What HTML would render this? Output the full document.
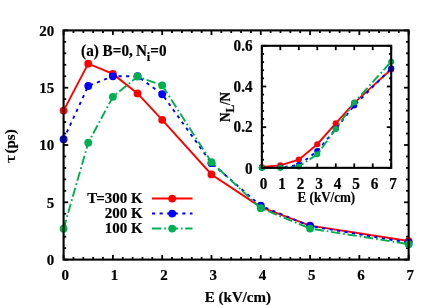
<!DOCTYPE html>
<html><head><meta charset="utf-8"><title>chart</title>
<style>
html,body{margin:0;padding:0;background:#fff;}
body{width:436px;height:305px;overflow:hidden;}
svg{display:block;will-change:transform;}
text{stroke:#000;stroke-width:0.2px;font-family:"Liberation Serif",serif;font-weight:bold;}
</style></head><body>
<svg width="436" height="305" viewBox="0 0 436 305">
<rect width="436" height="305" fill="#fff"/>
<line x1="63.60" y1="259.60" x2="63.60" y2="255.00" stroke="#000" stroke-width="1.80"/>
<line x1="63.60" y1="30.40" x2="63.60" y2="35.00" stroke="#000" stroke-width="1.80"/>
<line x1="73.46" y1="259.60" x2="73.46" y2="257.00" stroke="#000" stroke-width="1.80"/>
<line x1="73.46" y1="30.40" x2="73.46" y2="33.00" stroke="#000" stroke-width="1.80"/>
<line x1="83.32" y1="259.60" x2="83.32" y2="257.00" stroke="#000" stroke-width="1.80"/>
<line x1="83.32" y1="30.40" x2="83.32" y2="33.00" stroke="#000" stroke-width="1.80"/>
<line x1="93.18" y1="259.60" x2="93.18" y2="257.00" stroke="#000" stroke-width="1.80"/>
<line x1="93.18" y1="30.40" x2="93.18" y2="33.00" stroke="#000" stroke-width="1.80"/>
<line x1="103.03" y1="259.60" x2="103.03" y2="257.00" stroke="#000" stroke-width="1.80"/>
<line x1="103.03" y1="30.40" x2="103.03" y2="33.00" stroke="#000" stroke-width="1.80"/>
<line x1="112.89" y1="259.60" x2="112.89" y2="255.00" stroke="#000" stroke-width="1.80"/>
<line x1="112.89" y1="30.40" x2="112.89" y2="35.00" stroke="#000" stroke-width="1.80"/>
<line x1="122.75" y1="259.60" x2="122.75" y2="257.00" stroke="#000" stroke-width="1.80"/>
<line x1="122.75" y1="30.40" x2="122.75" y2="33.00" stroke="#000" stroke-width="1.80"/>
<line x1="132.61" y1="259.60" x2="132.61" y2="257.00" stroke="#000" stroke-width="1.80"/>
<line x1="132.61" y1="30.40" x2="132.61" y2="33.00" stroke="#000" stroke-width="1.80"/>
<line x1="142.47" y1="259.60" x2="142.47" y2="257.00" stroke="#000" stroke-width="1.80"/>
<line x1="142.47" y1="30.40" x2="142.47" y2="33.00" stroke="#000" stroke-width="1.80"/>
<line x1="152.33" y1="259.60" x2="152.33" y2="257.00" stroke="#000" stroke-width="1.80"/>
<line x1="152.33" y1="30.40" x2="152.33" y2="33.00" stroke="#000" stroke-width="1.80"/>
<line x1="162.19" y1="259.60" x2="162.19" y2="255.00" stroke="#000" stroke-width="1.80"/>
<line x1="162.19" y1="30.40" x2="162.19" y2="35.00" stroke="#000" stroke-width="1.80"/>
<line x1="172.04" y1="259.60" x2="172.04" y2="257.00" stroke="#000" stroke-width="1.80"/>
<line x1="172.04" y1="30.40" x2="172.04" y2="33.00" stroke="#000" stroke-width="1.80"/>
<line x1="181.90" y1="259.60" x2="181.90" y2="257.00" stroke="#000" stroke-width="1.80"/>
<line x1="181.90" y1="30.40" x2="181.90" y2="33.00" stroke="#000" stroke-width="1.80"/>
<line x1="191.76" y1="259.60" x2="191.76" y2="257.00" stroke="#000" stroke-width="1.80"/>
<line x1="191.76" y1="30.40" x2="191.76" y2="33.00" stroke="#000" stroke-width="1.80"/>
<line x1="201.62" y1="259.60" x2="201.62" y2="257.00" stroke="#000" stroke-width="1.80"/>
<line x1="201.62" y1="30.40" x2="201.62" y2="33.00" stroke="#000" stroke-width="1.80"/>
<line x1="211.48" y1="259.60" x2="211.48" y2="255.00" stroke="#000" stroke-width="1.80"/>
<line x1="211.48" y1="30.40" x2="211.48" y2="35.00" stroke="#000" stroke-width="1.80"/>
<line x1="221.34" y1="259.60" x2="221.34" y2="257.00" stroke="#000" stroke-width="1.80"/>
<line x1="221.34" y1="30.40" x2="221.34" y2="33.00" stroke="#000" stroke-width="1.80"/>
<line x1="231.20" y1="259.60" x2="231.20" y2="257.00" stroke="#000" stroke-width="1.80"/>
<line x1="231.20" y1="30.40" x2="231.20" y2="33.00" stroke="#000" stroke-width="1.80"/>
<line x1="241.05" y1="259.60" x2="241.05" y2="257.00" stroke="#000" stroke-width="1.80"/>
<line x1="241.05" y1="30.40" x2="241.05" y2="33.00" stroke="#000" stroke-width="1.80"/>
<line x1="250.91" y1="259.60" x2="250.91" y2="257.00" stroke="#000" stroke-width="1.80"/>
<line x1="250.91" y1="30.40" x2="250.91" y2="33.00" stroke="#000" stroke-width="1.80"/>
<line x1="260.77" y1="259.60" x2="260.77" y2="255.00" stroke="#000" stroke-width="1.80"/>
<line x1="260.77" y1="30.40" x2="260.77" y2="35.00" stroke="#000" stroke-width="1.80"/>
<line x1="270.63" y1="259.60" x2="270.63" y2="257.00" stroke="#000" stroke-width="1.80"/>
<line x1="270.63" y1="30.40" x2="270.63" y2="33.00" stroke="#000" stroke-width="1.80"/>
<line x1="280.49" y1="259.60" x2="280.49" y2="257.00" stroke="#000" stroke-width="1.80"/>
<line x1="280.49" y1="30.40" x2="280.49" y2="33.00" stroke="#000" stroke-width="1.80"/>
<line x1="290.35" y1="259.60" x2="290.35" y2="257.00" stroke="#000" stroke-width="1.80"/>
<line x1="290.35" y1="30.40" x2="290.35" y2="33.00" stroke="#000" stroke-width="1.80"/>
<line x1="300.21" y1="259.60" x2="300.21" y2="257.00" stroke="#000" stroke-width="1.80"/>
<line x1="300.21" y1="30.40" x2="300.21" y2="33.00" stroke="#000" stroke-width="1.80"/>
<line x1="310.06" y1="259.60" x2="310.06" y2="255.00" stroke="#000" stroke-width="1.80"/>
<line x1="310.06" y1="30.40" x2="310.06" y2="35.00" stroke="#000" stroke-width="1.80"/>
<line x1="319.92" y1="259.60" x2="319.92" y2="257.00" stroke="#000" stroke-width="1.80"/>
<line x1="319.92" y1="30.40" x2="319.92" y2="33.00" stroke="#000" stroke-width="1.80"/>
<line x1="329.78" y1="259.60" x2="329.78" y2="257.00" stroke="#000" stroke-width="1.80"/>
<line x1="329.78" y1="30.40" x2="329.78" y2="33.00" stroke="#000" stroke-width="1.80"/>
<line x1="339.64" y1="259.60" x2="339.64" y2="257.00" stroke="#000" stroke-width="1.80"/>
<line x1="339.64" y1="30.40" x2="339.64" y2="33.00" stroke="#000" stroke-width="1.80"/>
<line x1="349.50" y1="259.60" x2="349.50" y2="257.00" stroke="#000" stroke-width="1.80"/>
<line x1="349.50" y1="30.40" x2="349.50" y2="33.00" stroke="#000" stroke-width="1.80"/>
<line x1="359.36" y1="259.60" x2="359.36" y2="255.00" stroke="#000" stroke-width="1.80"/>
<line x1="359.36" y1="30.40" x2="359.36" y2="35.00" stroke="#000" stroke-width="1.80"/>
<line x1="369.22" y1="259.60" x2="369.22" y2="257.00" stroke="#000" stroke-width="1.80"/>
<line x1="369.22" y1="30.40" x2="369.22" y2="33.00" stroke="#000" stroke-width="1.80"/>
<line x1="379.07" y1="259.60" x2="379.07" y2="257.00" stroke="#000" stroke-width="1.80"/>
<line x1="379.07" y1="30.40" x2="379.07" y2="33.00" stroke="#000" stroke-width="1.80"/>
<line x1="388.93" y1="259.60" x2="388.93" y2="257.00" stroke="#000" stroke-width="1.80"/>
<line x1="388.93" y1="30.40" x2="388.93" y2="33.00" stroke="#000" stroke-width="1.80"/>
<line x1="398.79" y1="259.60" x2="398.79" y2="257.00" stroke="#000" stroke-width="1.80"/>
<line x1="398.79" y1="30.40" x2="398.79" y2="33.00" stroke="#000" stroke-width="1.80"/>
<line x1="408.65" y1="259.60" x2="408.65" y2="255.00" stroke="#000" stroke-width="1.80"/>
<line x1="408.65" y1="30.40" x2="408.65" y2="35.00" stroke="#000" stroke-width="1.80"/>
<line x1="63.60" y1="259.60" x2="68.20" y2="259.60" stroke="#000" stroke-width="1.80"/>
<line x1="408.65" y1="259.60" x2="404.05" y2="259.60" stroke="#000" stroke-width="1.80"/>
<line x1="63.60" y1="248.14" x2="66.20" y2="248.14" stroke="#000" stroke-width="1.80"/>
<line x1="408.65" y1="248.14" x2="406.05" y2="248.14" stroke="#000" stroke-width="1.80"/>
<line x1="63.60" y1="236.68" x2="66.20" y2="236.68" stroke="#000" stroke-width="1.80"/>
<line x1="408.65" y1="236.68" x2="406.05" y2="236.68" stroke="#000" stroke-width="1.80"/>
<line x1="63.60" y1="225.22" x2="66.20" y2="225.22" stroke="#000" stroke-width="1.80"/>
<line x1="408.65" y1="225.22" x2="406.05" y2="225.22" stroke="#000" stroke-width="1.80"/>
<line x1="63.60" y1="213.76" x2="66.20" y2="213.76" stroke="#000" stroke-width="1.80"/>
<line x1="408.65" y1="213.76" x2="406.05" y2="213.76" stroke="#000" stroke-width="1.80"/>
<line x1="63.60" y1="202.30" x2="68.20" y2="202.30" stroke="#000" stroke-width="1.80"/>
<line x1="408.65" y1="202.30" x2="404.05" y2="202.30" stroke="#000" stroke-width="1.80"/>
<line x1="63.60" y1="190.84" x2="66.20" y2="190.84" stroke="#000" stroke-width="1.80"/>
<line x1="408.65" y1="190.84" x2="406.05" y2="190.84" stroke="#000" stroke-width="1.80"/>
<line x1="63.60" y1="179.38" x2="66.20" y2="179.38" stroke="#000" stroke-width="1.80"/>
<line x1="408.65" y1="179.38" x2="406.05" y2="179.38" stroke="#000" stroke-width="1.80"/>
<line x1="63.60" y1="167.92" x2="66.20" y2="167.92" stroke="#000" stroke-width="1.80"/>
<line x1="408.65" y1="167.92" x2="406.05" y2="167.92" stroke="#000" stroke-width="1.80"/>
<line x1="63.60" y1="156.46" x2="66.20" y2="156.46" stroke="#000" stroke-width="1.80"/>
<line x1="408.65" y1="156.46" x2="406.05" y2="156.46" stroke="#000" stroke-width="1.80"/>
<line x1="63.60" y1="145.00" x2="68.20" y2="145.00" stroke="#000" stroke-width="1.80"/>
<line x1="408.65" y1="145.00" x2="404.05" y2="145.00" stroke="#000" stroke-width="1.80"/>
<line x1="63.60" y1="133.54" x2="66.20" y2="133.54" stroke="#000" stroke-width="1.80"/>
<line x1="408.65" y1="133.54" x2="406.05" y2="133.54" stroke="#000" stroke-width="1.80"/>
<line x1="63.60" y1="122.08" x2="66.20" y2="122.08" stroke="#000" stroke-width="1.80"/>
<line x1="408.65" y1="122.08" x2="406.05" y2="122.08" stroke="#000" stroke-width="1.80"/>
<line x1="63.60" y1="110.62" x2="66.20" y2="110.62" stroke="#000" stroke-width="1.80"/>
<line x1="408.65" y1="110.62" x2="406.05" y2="110.62" stroke="#000" stroke-width="1.80"/>
<line x1="63.60" y1="99.16" x2="66.20" y2="99.16" stroke="#000" stroke-width="1.80"/>
<line x1="408.65" y1="99.16" x2="406.05" y2="99.16" stroke="#000" stroke-width="1.80"/>
<line x1="63.60" y1="87.70" x2="68.20" y2="87.70" stroke="#000" stroke-width="1.80"/>
<line x1="408.65" y1="87.70" x2="404.05" y2="87.70" stroke="#000" stroke-width="1.80"/>
<line x1="63.60" y1="76.24" x2="66.20" y2="76.24" stroke="#000" stroke-width="1.80"/>
<line x1="408.65" y1="76.24" x2="406.05" y2="76.24" stroke="#000" stroke-width="1.80"/>
<line x1="63.60" y1="64.78" x2="66.20" y2="64.78" stroke="#000" stroke-width="1.80"/>
<line x1="408.65" y1="64.78" x2="406.05" y2="64.78" stroke="#000" stroke-width="1.80"/>
<line x1="63.60" y1="53.32" x2="66.20" y2="53.32" stroke="#000" stroke-width="1.80"/>
<line x1="408.65" y1="53.32" x2="406.05" y2="53.32" stroke="#000" stroke-width="1.80"/>
<line x1="63.60" y1="41.86" x2="66.20" y2="41.86" stroke="#000" stroke-width="1.80"/>
<line x1="408.65" y1="41.86" x2="406.05" y2="41.86" stroke="#000" stroke-width="1.80"/>
<line x1="63.60" y1="30.40" x2="68.20" y2="30.40" stroke="#000" stroke-width="1.80"/>
<line x1="408.65" y1="30.40" x2="404.05" y2="30.40" stroke="#000" stroke-width="1.80"/>
<polyline points="63.60,110.62 88.25,63.63 112.89,73.95 137.54,93.43 162.19,119.79 211.48,174.45 260.77,207.11 310.06,225.68 408.65,241.03" fill="none" stroke="#ff0000" stroke-width="1.90"/>
<circle cx="63.60" cy="110.62" r="3.90" fill="#ff0000"/>
<circle cx="88.25" cy="63.63" r="3.90" fill="#ff0000"/>
<circle cx="112.89" cy="73.95" r="3.90" fill="#ff0000"/>
<circle cx="137.54" cy="93.43" r="3.90" fill="#ff0000"/>
<circle cx="162.19" cy="119.79" r="3.90" fill="#ff0000"/>
<circle cx="211.48" cy="174.45" r="3.90" fill="#ff0000"/>
<circle cx="260.77" cy="207.11" r="3.90" fill="#ff0000"/>
<circle cx="310.06" cy="225.68" r="3.90" fill="#ff0000"/>
<circle cx="408.65" cy="241.03" r="3.90" fill="#ff0000"/>
<polyline points="63.60,139.27 88.25,85.98 112.89,76.24 137.54,76.24 162.19,94.23 211.48,163.22 260.77,205.74 310.06,226.02 408.65,242.75" fill="none" stroke="#0000ff" stroke-width="1.90" stroke-dasharray="3.2 4.37"/>
<circle cx="63.60" cy="139.27" r="3.90" fill="#0000ff"/>
<circle cx="88.25" cy="85.98" r="3.90" fill="#0000ff"/>
<circle cx="112.89" cy="76.24" r="3.90" fill="#0000ff"/>
<circle cx="137.54" cy="76.24" r="3.90" fill="#0000ff"/>
<circle cx="162.19" cy="94.23" r="3.90" fill="#0000ff"/>
<circle cx="211.48" cy="163.22" r="3.90" fill="#0000ff"/>
<circle cx="260.77" cy="205.74" r="3.90" fill="#0000ff"/>
<circle cx="310.06" cy="226.02" r="3.90" fill="#0000ff"/>
<circle cx="408.65" cy="242.75" r="3.90" fill="#0000ff"/>
<polyline points="63.60,228.66 88.25,142.71 112.89,96.87 137.54,76.47 162.19,85.41 211.48,162.19 260.77,208.14 310.06,228.54 408.65,244.13" fill="none" stroke="#00b050" stroke-width="1.90" stroke-dasharray="9.33 2.9 1.7 2.72"/>
<circle cx="63.60" cy="228.66" r="3.90" fill="#00b050"/>
<circle cx="88.25" cy="142.71" r="3.90" fill="#00b050"/>
<circle cx="112.89" cy="96.87" r="3.90" fill="#00b050"/>
<circle cx="137.54" cy="76.47" r="3.90" fill="#00b050"/>
<circle cx="162.19" cy="85.41" r="3.90" fill="#00b050"/>
<circle cx="211.48" cy="162.19" r="3.90" fill="#00b050"/>
<circle cx="260.77" cy="208.14" r="3.90" fill="#00b050"/>
<circle cx="310.06" cy="228.54" r="3.90" fill="#00b050"/>
<circle cx="408.65" cy="244.13" r="3.90" fill="#00b050"/>
<rect x="63.60" y="30.40" width="345.05" height="229.20" fill="none" stroke="#000" stroke-width="2.10"/>
<line x1="261.85" y1="167.85" x2="261.85" y2="163.45" stroke="#000" stroke-width="1.80"/>
<line x1="261.85" y1="45.80" x2="261.85" y2="50.20" stroke="#000" stroke-width="1.80"/>
<line x1="280.33" y1="167.85" x2="280.33" y2="163.45" stroke="#000" stroke-width="1.80"/>
<line x1="280.33" y1="45.80" x2="280.33" y2="50.20" stroke="#000" stroke-width="1.80"/>
<line x1="298.81" y1="167.85" x2="298.81" y2="163.45" stroke="#000" stroke-width="1.80"/>
<line x1="298.81" y1="45.80" x2="298.81" y2="50.20" stroke="#000" stroke-width="1.80"/>
<line x1="317.29" y1="167.85" x2="317.29" y2="163.45" stroke="#000" stroke-width="1.80"/>
<line x1="317.29" y1="45.80" x2="317.29" y2="50.20" stroke="#000" stroke-width="1.80"/>
<line x1="335.76" y1="167.85" x2="335.76" y2="163.45" stroke="#000" stroke-width="1.80"/>
<line x1="335.76" y1="45.80" x2="335.76" y2="50.20" stroke="#000" stroke-width="1.80"/>
<line x1="354.24" y1="167.85" x2="354.24" y2="163.45" stroke="#000" stroke-width="1.80"/>
<line x1="354.24" y1="45.80" x2="354.24" y2="50.20" stroke="#000" stroke-width="1.80"/>
<line x1="372.72" y1="167.85" x2="372.72" y2="163.45" stroke="#000" stroke-width="1.80"/>
<line x1="372.72" y1="45.80" x2="372.72" y2="50.20" stroke="#000" stroke-width="1.80"/>
<line x1="391.20" y1="167.85" x2="391.20" y2="163.45" stroke="#000" stroke-width="1.80"/>
<line x1="391.20" y1="45.80" x2="391.20" y2="50.20" stroke="#000" stroke-width="1.80"/>
<line x1="261.85" y1="167.85" x2="266.25" y2="167.85" stroke="#000" stroke-width="1.80"/>
<line x1="391.20" y1="167.85" x2="386.80" y2="167.85" stroke="#000" stroke-width="1.80"/>
<line x1="261.85" y1="159.71" x2="264.05" y2="159.71" stroke="#000" stroke-width="1.80"/>
<line x1="391.20" y1="159.71" x2="389.00" y2="159.71" stroke="#000" stroke-width="1.80"/>
<line x1="261.85" y1="151.58" x2="264.05" y2="151.58" stroke="#000" stroke-width="1.80"/>
<line x1="391.20" y1="151.58" x2="389.00" y2="151.58" stroke="#000" stroke-width="1.80"/>
<line x1="261.85" y1="143.44" x2="264.05" y2="143.44" stroke="#000" stroke-width="1.80"/>
<line x1="391.20" y1="143.44" x2="389.00" y2="143.44" stroke="#000" stroke-width="1.80"/>
<line x1="261.85" y1="135.30" x2="264.05" y2="135.30" stroke="#000" stroke-width="1.80"/>
<line x1="391.20" y1="135.30" x2="389.00" y2="135.30" stroke="#000" stroke-width="1.80"/>
<line x1="261.85" y1="127.17" x2="266.25" y2="127.17" stroke="#000" stroke-width="1.80"/>
<line x1="391.20" y1="127.17" x2="386.80" y2="127.17" stroke="#000" stroke-width="1.80"/>
<line x1="261.85" y1="119.03" x2="264.05" y2="119.03" stroke="#000" stroke-width="1.80"/>
<line x1="391.20" y1="119.03" x2="389.00" y2="119.03" stroke="#000" stroke-width="1.80"/>
<line x1="261.85" y1="110.89" x2="264.05" y2="110.89" stroke="#000" stroke-width="1.80"/>
<line x1="391.20" y1="110.89" x2="389.00" y2="110.89" stroke="#000" stroke-width="1.80"/>
<line x1="261.85" y1="102.76" x2="264.05" y2="102.76" stroke="#000" stroke-width="1.80"/>
<line x1="391.20" y1="102.76" x2="389.00" y2="102.76" stroke="#000" stroke-width="1.80"/>
<line x1="261.85" y1="94.62" x2="264.05" y2="94.62" stroke="#000" stroke-width="1.80"/>
<line x1="391.20" y1="94.62" x2="389.00" y2="94.62" stroke="#000" stroke-width="1.80"/>
<line x1="261.85" y1="86.48" x2="266.25" y2="86.48" stroke="#000" stroke-width="1.80"/>
<line x1="391.20" y1="86.48" x2="386.80" y2="86.48" stroke="#000" stroke-width="1.80"/>
<line x1="261.85" y1="78.35" x2="264.05" y2="78.35" stroke="#000" stroke-width="1.80"/>
<line x1="391.20" y1="78.35" x2="389.00" y2="78.35" stroke="#000" stroke-width="1.80"/>
<line x1="261.85" y1="70.21" x2="264.05" y2="70.21" stroke="#000" stroke-width="1.80"/>
<line x1="391.20" y1="70.21" x2="389.00" y2="70.21" stroke="#000" stroke-width="1.80"/>
<line x1="261.85" y1="62.07" x2="264.05" y2="62.07" stroke="#000" stroke-width="1.80"/>
<line x1="391.20" y1="62.07" x2="389.00" y2="62.07" stroke="#000" stroke-width="1.80"/>
<line x1="261.85" y1="53.94" x2="264.05" y2="53.94" stroke="#000" stroke-width="1.80"/>
<line x1="391.20" y1="53.94" x2="389.00" y2="53.94" stroke="#000" stroke-width="1.80"/>
<line x1="261.85" y1="45.80" x2="266.25" y2="45.80" stroke="#000" stroke-width="1.80"/>
<line x1="391.20" y1="45.80" x2="386.80" y2="45.80" stroke="#000" stroke-width="1.80"/>
<polyline points="261.85,167.04 280.33,165.41 298.81,159.61 317.29,144.21 335.76,123.36 354.24,102.90 391.20,69.40" fill="none" stroke="#ff0000" stroke-width="1.90"/>
<circle cx="261.85" cy="167.04" r="3.05" fill="#ff0000"/>
<circle cx="280.33" cy="165.41" r="3.05" fill="#ff0000"/>
<circle cx="298.81" cy="159.61" r="3.05" fill="#ff0000"/>
<circle cx="317.29" cy="144.21" r="3.05" fill="#ff0000"/>
<circle cx="335.76" cy="123.36" r="3.05" fill="#ff0000"/>
<circle cx="354.24" cy="102.90" r="3.05" fill="#ff0000"/>
<circle cx="391.20" cy="69.40" r="3.05" fill="#ff0000"/>
<polyline points="261.85,167.85 280.33,167.44 298.81,165.10 317.29,151.11 335.76,128.83 354.24,105.54 391.20,68.38" fill="none" stroke="#0000ff" stroke-width="1.90" stroke-dasharray="3.2 4.37"/>
<circle cx="261.85" cy="167.85" r="3.05" fill="#0000ff"/>
<circle cx="280.33" cy="167.44" r="3.05" fill="#0000ff"/>
<circle cx="298.81" cy="165.10" r="3.05" fill="#0000ff"/>
<circle cx="317.29" cy="151.11" r="3.05" fill="#0000ff"/>
<circle cx="335.76" cy="128.83" r="3.05" fill="#0000ff"/>
<circle cx="354.24" cy="105.54" r="3.05" fill="#0000ff"/>
<circle cx="391.20" cy="68.38" r="3.05" fill="#0000ff"/>
<polyline points="261.85,167.85 280.33,167.85 298.81,166.43 317.29,154.34 335.76,129.02 354.24,102.49 391.20,61.69" fill="none" stroke="#00b050" stroke-width="1.90" stroke-dasharray="9.33 2.9 1.7 2.72"/>
<circle cx="261.85" cy="167.85" r="3.05" fill="#00b050"/>
<circle cx="280.33" cy="167.85" r="3.05" fill="#00b050"/>
<circle cx="298.81" cy="166.43" r="3.05" fill="#00b050"/>
<circle cx="317.29" cy="154.34" r="3.05" fill="#00b050"/>
<circle cx="335.76" cy="129.02" r="3.05" fill="#00b050"/>
<circle cx="354.24" cy="102.49" r="3.05" fill="#00b050"/>
<circle cx="391.20" cy="61.69" r="3.05" fill="#00b050"/>
<rect x="261.85" y="45.80" width="129.35" height="122.05" fill="none" stroke="#000" stroke-width="2.10"/>
<text transform="translate(54.30,264.80) scale(0.9662,1)" font-size="15.52" text-anchor="end">0</text>
<text transform="translate(54.30,207.50) scale(0.9662,1)" font-size="15.52" text-anchor="end">5</text>
<text transform="translate(54.30,150.20) scale(0.9662,1)" font-size="15.52" text-anchor="end">10</text>
<text transform="translate(54.30,92.90) scale(0.9662,1)" font-size="15.52" text-anchor="end">15</text>
<text transform="translate(54.30,35.60) scale(0.9662,1)" font-size="15.52" text-anchor="end">20</text>
<text transform="translate(65.30,280.00) scale(0.9662,1)" font-size="15.52" text-anchor="middle">0</text>
<text transform="translate(114.59,280.00) scale(0.9662,1)" font-size="15.52" text-anchor="middle">1</text>
<text transform="translate(163.89,280.00) scale(0.9662,1)" font-size="15.52" text-anchor="middle">2</text>
<text transform="translate(213.18,280.00) scale(0.9662,1)" font-size="15.52" text-anchor="middle">3</text>
<text transform="translate(262.47,280.00) scale(0.9662,1)" font-size="15.52" text-anchor="middle">4</text>
<text transform="translate(311.76,280.00) scale(0.9662,1)" font-size="15.52" text-anchor="middle">5</text>
<text transform="translate(361.06,280.00) scale(0.9662,1)" font-size="15.52" text-anchor="middle">6</text>
<text transform="translate(410.35,280.00) scale(0.9662,1)" font-size="15.52" text-anchor="middle">7</text>
<text transform="translate(237.90,302.25) scale(0.9662,1)" font-size="15.52" text-anchor="middle">E (kV/cm)</text>
<g transform="translate(15.3,162.5) rotate(-90)">
<text transform="translate(-0.70,0.00) scale(1.3720,1)" font-size="15.52" text-anchor="start" style="font-weight:normal;stroke-width:0.15px">τ</text>
<text transform="translate(9.00,0.00) scale(0.9662,1)" font-size="15.52" text-anchor="start">(ps)</text>
</g>
<text transform="translate(81.10,56.35) scale(0.9662,1)" font-size="15.73" text-anchor="start">(a) B=0,<tspan dx="-0.7"> N</tspan><tspan font-size="12.94" dy="4.3">i</tspan><tspan dy="-4.3">=0</tspan></text>
<text transform="translate(142.60,203.45) scale(0.9662,1)" font-size="15.52" text-anchor="end">T<tspan dx="-1">=300 K</tspan></text>
<line x1="152" y1="198.55" x2="192.5" y2="198.55" stroke="#ff0000" stroke-width="1.90"/>
<circle cx="172.2" cy="198.55" r="3.9" fill="#ff0000"/>
<text transform="translate(142.60,218.45) scale(0.9662,1)" font-size="15.52" text-anchor="end">200 K</text>
<line x1="152" y1="213.55" x2="192.5" y2="213.55" stroke="#0000ff" stroke-width="1.90" stroke-dasharray="3.2 4.37"/>
<circle cx="172.2" cy="213.55" r="3.9" fill="#0000ff"/>
<text transform="translate(142.60,233.45) scale(0.9662,1)" font-size="15.52" text-anchor="end">100 K</text>
<line x1="152" y1="228.55" x2="192.5" y2="228.55" stroke="#00b050" stroke-width="1.90" stroke-dasharray="9.33 2.9 1.7 2.72"/>
<circle cx="172.2" cy="228.55" r="3.9" fill="#00b050"/>
<text transform="translate(252.60,173.85) scale(0.9662,1)" font-size="15.73" text-anchor="end">0</text>
<text transform="translate(252.60,132.42) scale(0.9662,1)" font-size="15.73" text-anchor="end">0.2</text>
<text transform="translate(252.60,91.98) scale(0.9662,1)" font-size="15.73" text-anchor="end">0.4</text>
<text transform="translate(252.60,51.30) scale(0.9662,1)" font-size="15.73" text-anchor="end">0.6</text>
<text transform="translate(263.65,189.20) scale(0.9662,1)" font-size="15.73" text-anchor="middle">0</text>
<text transform="translate(282.13,189.20) scale(0.9662,1)" font-size="15.73" text-anchor="middle">1</text>
<text transform="translate(300.61,189.20) scale(0.9662,1)" font-size="15.73" text-anchor="middle">2</text>
<text transform="translate(319.09,189.20) scale(0.9662,1)" font-size="15.73" text-anchor="middle">3</text>
<text transform="translate(337.56,189.20) scale(0.9662,1)" font-size="15.73" text-anchor="middle">4</text>
<text transform="translate(356.04,189.20) scale(0.9662,1)" font-size="15.73" text-anchor="middle">5</text>
<text transform="translate(374.52,189.20) scale(0.9662,1)" font-size="15.73" text-anchor="middle">6</text>
<text transform="translate(393.00,189.20) scale(0.9662,1)" font-size="15.73" text-anchor="middle">7</text>
<text transform="translate(326.40,202.00) scale(0.8817,1)" font-size="14.80" text-anchor="middle">E (kV/cm)</text>
<g transform="translate(230.1,107.0) rotate(-90)">
<text transform="translate(0.00,0.00) scale(0.8817,1)" font-size="14.80" text-anchor="middle">N<tspan font-size="12.94" dy="3.5">L</tspan><tspan dy="-3.5">/N</tspan></text>
</g>
</svg>
</body></html>
